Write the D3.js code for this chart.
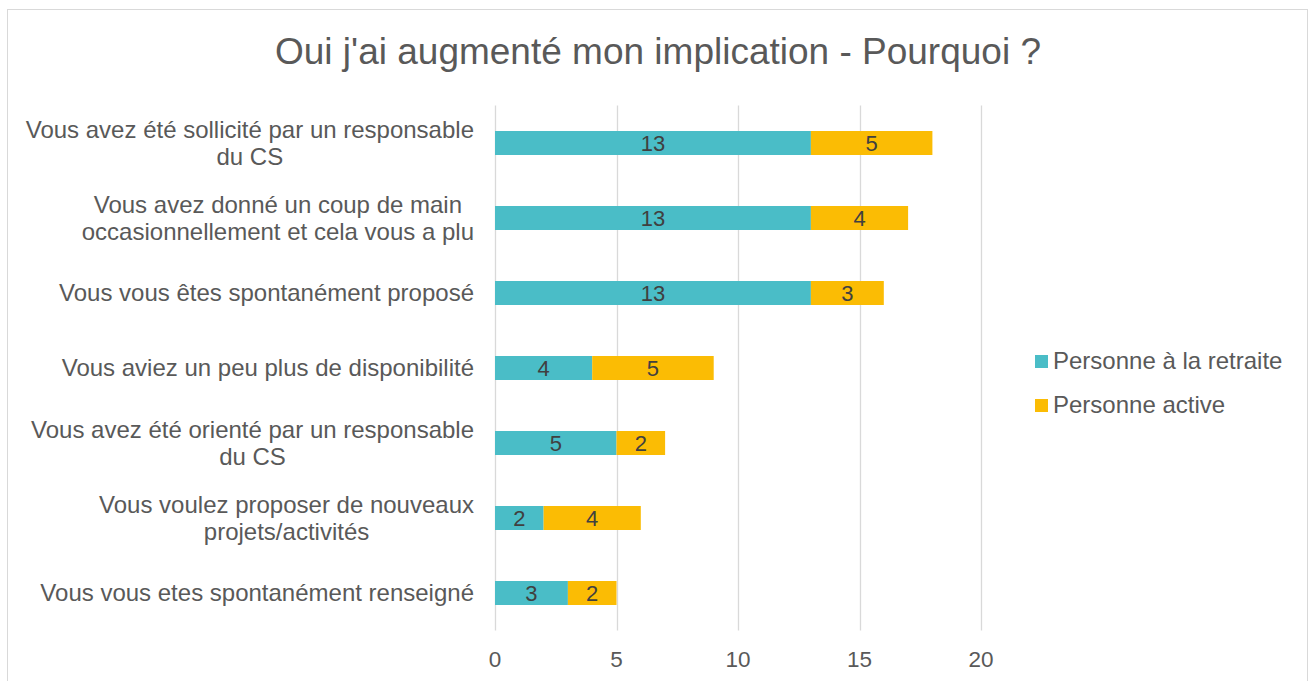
<!DOCTYPE html>
<html>
<head>
<meta charset="utf-8">
<script src="https://cdn.jsdelivr.net/npm/d3@7"></script>
<style>
  body { margin: 0; background: #fff; }
  svg text { font-family: "Liberation Sans", Arial, sans-serif; }
</style>
</head>
<body>
<svg id="chart"></svg>
<script>
// chart values
var categories = [
    ["Vous avez été sollicité par un responsable", "du CS"],
    ["Vous avez donné un coup de main", "occasionnellement et cela vous a plu"],
    ["Vous vous êtes spontanément proposé"],
    ["Vous aviez un peu plus de disponibilité"],
    ["Vous avez été orienté par un responsable", "du CS"],
    ["Vous voulez proposer de nouveaux", "projets/activités"],
    ["Vous vous etes spontanément renseigné"]
];
var retraite = [13, 13, 13, 4, 5, 2, 3];
var active = [5, 4, 3, 5, 2, 4, 2];
var seriesNames = ["Personne à la retraite", "Personne active"];
var xTicks = [0, 5, 10, 15, 20];

var W = 1316, H = 681;
var PLOT = { left: 495, right: 981, top: 105.5, bottom: 630.5 };
var COLORS = ["#4ABDC7", "#FBBC04"];
var TEXT = "#595959";

function buildChart() {
    var svg = d3.select("#chart").attr("width", W).attr("height", H);

    // outer frame
    svg.append("rect")
        .attr("x", 7.5).attr("y", 9.5)
        .attr("width", 1300).attr("height", 690)
        .attr("fill", "#fff")
        .attr("stroke", "#d9d9d9");

    svg.append("text")
        .attr("x", 658).attr("y", 64)
        .attr("text-anchor", "middle")
        .attr("font-size", 37)
        .attr("fill", TEXT)
        .text("Oui j'ai augmenté mon implication - Pourquoi ?");

    var x = d3.scaleLinear().domain([0, 20]).range([PLOT.left, PLOT.right]);
    var y = d3.scaleBand()
        .domain(d3.range(categories.length))
        .range([PLOT.top, PLOT.bottom])
        .paddingInner(0.68).paddingOuter(0.34);

    // vertical gridlines
    svg.append("g")
        .selectAll("line")
        .data(xTicks)
        .enter().append("line")
        .attr("x1", function(d) { return Math.round(x(d)) + 0.5; })
        .attr("x2", function(d) { return Math.round(x(d)) + 0.5; })
        .attr("y1", PLOT.top).attr("y2", PLOT.bottom)
        .attr("stroke", "#d9d9d9")
        .attr("stroke-width", 1.3);

    // x tick labels
    svg.append("g")
        .selectAll("text")
        .data(xTicks)
        .enter().append("text")
        .attr("x", function(d) { return x(d); })
        .attr("y", 667)
        .attr("text-anchor", "middle")
        .attr("font-size", 22.5)
        .attr("fill", TEXT)
        .text(function(d) { return d; });

    var rows = categories.map(function(c, i) {
        return { i: i, segs: [
            { s: 0, x0: 0, v: retraite[i] },
            { s: 1, x0: retraite[i], v: active[i] }
        ] };
    });

    var row = svg.append("g").selectAll("g")
        .data(rows)
        .enter().append("g");

    row.selectAll("rect")
        .data(function(d) { return d.segs.map(function(s) { s.i = d.i; return s; }); })
        .enter().append("rect")
        .attr("x", function(d) { return x(d.x0); })
        .attr("y", function(d) { return y(d.i); })
        .attr("width", function(d) { return x(d.x0 + d.v) - x(d.x0); })
        .attr("height", y.bandwidth())
        .attr("fill", function(d) { return COLORS[d.s]; });

    row.selectAll("text")
        .data(function(d) { return d.segs; })
        .enter().append("text")
        .attr("x", function(d) { return x(d.x0 + d.v / 2); })
        .attr("y", function(d) { return y(d.i) + y.bandwidth() / 2 + 8; })
        .attr("text-anchor", "middle")
        .attr("font-size", 22)
        .attr("fill", "#404040")
        .text(function(d) { return d.v; });

    // category labels (wrapped lines centred on the widest one)
    var labelRight = 474, lineH = 27;
    categories.forEach(function(lines, i) {
        var g = svg.append("g");
        var cy = y(i) + y.bandwidth() / 2;
        var texts = lines.map(function(l, k) {
            return g.append("text")
                .attr("y", cy + 8 + (k - (lines.length - 1) / 2) * lineH)
                .attr("font-size", 24)
                .attr("fill", TEXT)
                .text(l);
        });
        var maxW = d3.max(texts, function(t) { return t.node().getComputedTextLength(); });
        texts.forEach(function(t) {
            t.attr("x", labelRight - maxW / 2).attr("text-anchor", "middle");
        });
    });

    // legend
    var leg = svg.append("g").selectAll("g")
        .data(seriesNames)
        .enter().append("g")
        .attr("transform", function(d, i) { return "translate(1035," + (361 + i * 44) + ")"; });
    leg.append("rect")
        .attr("x", 0).attr("y", -6)
        .attr("width", 13).attr("height", 13)
        .attr("fill", function(d, i) { return COLORS[i]; });
    leg.append("text")
        .attr("x", 18).attr("y", 8)
        .attr("font-size", 24)
        .attr("fill", TEXT)
        .text(function(d) { return d; });
}

buildChart();
</script>
</body>
</html>
